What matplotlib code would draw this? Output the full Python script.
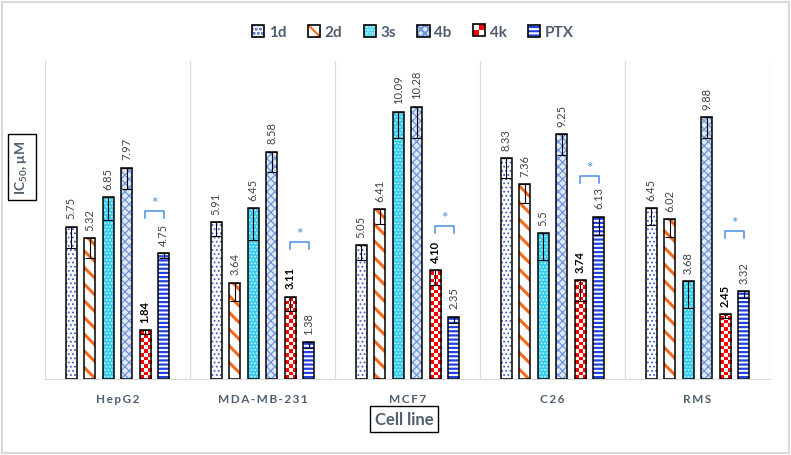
import numpy as np
import matplotlib
matplotlib.use('Agg')
import matplotlib.pyplot as plt
from matplotlib.patches import Rectangle

plt.rcParams['font.family'] = ['Lato', 'DejaVu Sans']
plt.rcParams['hatch.linewidth'] = 1.5

# data
cell_lines = ['HepG2', 'MDA-MB-231', 'MCF7', 'C26', 'RMS']
compounds = ['1d', '2d', '3s', '4b', '4k', 'PTX']

ic50_1d = [5.75, 5.91, 5.05, 8.33, 6.45]
ic50_2d = [5.32, 3.64, 6.41, 7.36, 6.02]
ic50_3s = [6.85, 6.45, 10.09, 5.5, 3.68]
ic50_4b = [7.97, 8.58, 10.28, 9.25, 9.88]
ic50_4k = [1.84, 3.11, 4.10, 3.74, 2.45]
ic50_ptx = [4.75, 1.38, 2.35, 6.13, 3.32]

err_1d = [0.8, 0.5, 0.55, 0.75, 0.65]
err_2d = [0.75, 0.7, 0.55, 0.7, 0.65]
err_3s = [0.85, 1.2, 1.0, 1.0, 1.0]
err_4b = [0.8, 0.75, 1.2, 0.8, 0.8]
err_4k = [0.15, 0.55, 0.55, 0.8, 0.15]
err_ptx = [0.2, 0.2, 0.25, 0.7, 0.25]

# height of the 4k vs PTX significance bracket
sig_y = [6.34, 5.17, 5.77, 7.66, 5.58]

values = [ic50_1d, ic50_2d, ic50_3s, ic50_4b, ic50_4k, ic50_ptx]
errors = [err_1d, err_2d, err_3s, err_4b, err_4k, err_ptx]

# (face, hatch, hatch colour, hatch lw)
styles = [
    ('white', '....', '#3F5FBF', 0.8),
    ('white', '\\\\', '#F26B1D', 2.2),
    ('#33CCEE', '.....', '#C8F4FB', 0.8),
    ('#DDE8F8', 'xxxx', '#6E95DA', 0.9),
    ('white', None, None, 1.0),
    ('white', '----', '#2040E0', 1.6),
]
RED = '#FF0000'
TEXT = '#4F5F6F'

fig = plt.figure(figsize=(7.91, 4.56), dpi=100)
ax = fig.add_axes([45 / 791, 1 - 380 / 456, 725 / 791, 318 / 456])

x = np.arange(len(cell_lines)) + 0.5
step = 0.1276
width = 0.076

checker = np.indices((80, 3)).sum(axis=0) % 2
checker_rgb = np.where(checker[..., None] == 0,
                       np.array([1.0, 0.0, 0.0]), np.array([1.0, 1.0, 1.0]))

for j, (vals, errs) in enumerate(zip(values, errors)):
    xs = x + (j - 2.5) * step
    face, hatch, hcol, hlw = styles[j]
    ax.bar(xs, vals, width, color=face, edgecolor='none', zorder=2)
    if hatch:
        hb = ax.bar(xs, vals, width, color='none', edgecolor=hcol,
                    linewidth=0, hatch=hatch, zorder=3)
        for p in hb:
            if hasattr(p, 'set_hatch_linewidth'):
                p.set_hatch_linewidth(hlw)
    outline = ax.bar(xs, vals, width, color='none', edgecolor='black',
                     linewidth=1.1, zorder=5)
    if compounds[j] == '4k':
        for p in outline:
            x0, h = p.get_x(), p.get_height()
            nrows = int(np.ceil(h / 0.14))
            im = ax.imshow(checker_rgb[:nrows], extent=(x0, x0 + width, 0, nrows * 0.14),
                           origin='lower', aspect='auto', interpolation='nearest', zorder=3)
            im.set_clip_path(p)
    ax.errorbar(xs, vals, yerr=[errs, np.zeros(len(errs))], fmt='none',
                ecolor='black', elinewidth=0.8, capsize=3.5, capthick=0.8, zorder=6)
    for xi, v in zip(xs, vals):
        if compounds[j] == '4k':
            ax.annotate('%.2f' % v, (xi, v), xytext=(0, 6), textcoords='offset points',
                        rotation=90, ha='center', va='bottom', fontsize=8,
                        fontweight='bold', color='black')
        else:
            ax.annotate('%g' % v, (xi, v), xytext=(0, 6), textcoords='offset points',
                        rotation=90, ha='center', va='bottom', fontsize=8, color='#404040')

# significance brackets 4k vs PTX
for i, y in enumerate(sig_y):
    xa = x[i] + 1.5 * step
    xb = x[i] + 2.5 * step
    ax.plot([xa, xa, xb, xb], [y - 0.25, y, y, y - 0.25], color='#4A8FE0', lw=1.1, zorder=6)
    ax.text((xa + xb) / 2, y + 0.05, '*', ha='center', va='bottom', fontsize=11, color='#4A8FE0')

ax.set_xlim(0, 5)
ax.set_ylim(0, 12)
ax.set_xticks(x)
ax.set_xticklabels(['\u2009'.join(c) for c in cell_lines], fontsize=8.5,
                   fontweight='bold', color=TEXT)
ax.tick_params(axis='x', length=0, pad=10)
ax.set_yticks([])
ax.set_xticks(np.arange(6), minor=True)
ax.tick_params(axis='x', which='minor', length=0)
ax.grid(which='minor', axis='x', color='#D3DDE8', lw=0.9)
ax.set_axisbelow(True)
for s in ['top', 'right', 'left']:
    ax.spines[s].set_visible(False)
ax.spines['bottom'].set_color('#D9D9D9')


class CheckerHandler:
    def legend_artist(self, legend, orig_handle, fontsize, handlebox):
        x0, y0 = handlebox.xdescent, handlebox.ydescent
        w, h = handlebox.width, handlebox.height
        tr = handlebox.get_transform()
        for k in range(2):
            for m in range(2):
                c = RED if (k + m) % 2 == 0 else 'white'
                handlebox.add_artist(Rectangle((x0 + k * w / 2, y0 + m * h / 2), w / 2, h / 2,
                                               fc=c, ec='none', transform=tr))
        box = Rectangle((x0, y0), w, h, fc='none', ec='black', lw=1.2, transform=tr)
        handlebox.add_artist(box)
        return box


handles = []
handler_map = {}
for j, c in enumerate(compounds):
    face, hatch, hcol, hlw = styles[j]
    if c == '4k':
        h = Rectangle((0, 0), 1, 1)
        handler_map[h] = CheckerHandler()
        handles.append(h)
        continue
    parts = [Rectangle((0, 0), 1, 1, fc=face, ec='none')]
    if hatch:
        parts.append(Rectangle((0, 0), 1, 1, fc='none', ec=hcol, lw=0, hatch=hatch))
    parts.append(Rectangle((0, 0), 1, 1, fc='none', ec='black', lw=1.2))
    handles.append(tuple(parts))

leg = fig.legend(handles, compounds, handler_map=handler_map, loc='center',
                 bbox_to_anchor=(413 / 791, 1 - 33 / 456), ncol=6, frameon=False,
                 handlelength=0.8, handleheight=0.8, handletextpad=0.3,
                 columnspacing=1.4, prop={'size': 11, 'weight': 'bold'})
for t in leg.get_texts():
    t.set_color(TEXT)

fig.text(22 / 791, 1 - 168 / 456, 'IC$_{\\mathregular{50}}$, μM', rotation=90,
         ha='center', va='center', fontsize=10, fontweight='bold', color=TEXT,
         bbox=dict(boxstyle='square,pad=0.4', fc='white', ec='black', lw=1))
fig.text(404 / 791, 1 - 420 / 456, 'Cell line', ha='center', va='center',
         fontsize=12, fontweight='bold', color=TEXT,
         bbox=dict(boxstyle='square,pad=0.3', fc='white', ec='black', lw=1))

fig.patches.append(Rectangle((0.003, 0.004), 0.994, 0.99, transform=fig.transFigure,
                             fill=False, ec='#D9D9D9', lw=1.5))

fig.savefig('out.png', dpi=100)
